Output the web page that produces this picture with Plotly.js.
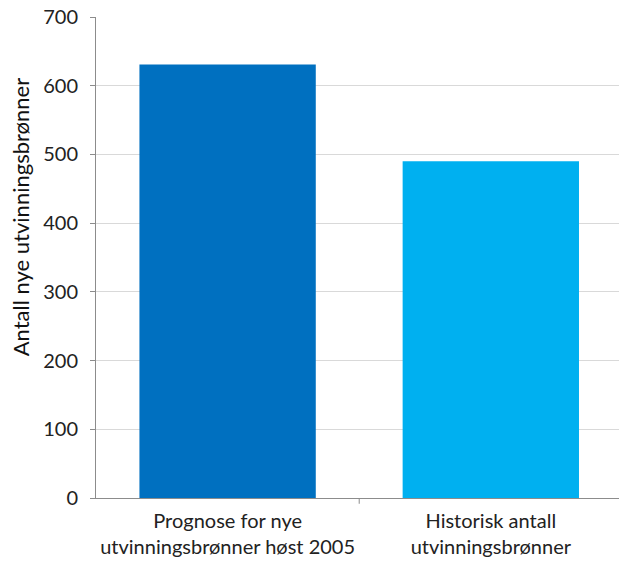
<!DOCTYPE html>
<html>
<head>
<meta charset="utf-8">
<script src="https://cdn.plot.ly/plotly-3.0.1.min.js"></script>
<style>html,body{margin:0;padding:0;background:#fff;}#chart{width:619px;height:563px;}</style>
</head>
<body>
<div id="chart"></div>
<script>
const categories = ["Prognose for nye<br>utvinningsbrønner høst 2005", "Historisk antall<br>utvinningsbrønner"];
const values = [631, 490];
const barColors = ["#0070C0", "#00B0F0"];
const yTitle = "Antall nye utvinningsbrønner";

const data = [{
  type: "bar",
  x: [0, 1],
  y: values,
  marker: {color: barColors},
  width: 0.67,
  hoverinfo: "y"
}];

const layout = {
  width: 619, height: 563,
  margin: {l: 96, r: 0, t: 17, b: 65},
  paper_bgcolor: "#fff", plot_bgcolor: "#fff",
  font: {family: "Lato, 'Open Sans', sans-serif", size: 18, color: "#222"},
  showlegend: false,
  xaxis: {
    range: [-0.5, 1.487],
    tickmode: "array", tickvals: [0, 1], ticktext: categories,
    showline: true, linecolor: "#8c8c8c", linewidth: 1,
    ticks: "", showgrid: false, zeroline: false,
    ticklabelstandoff: 5,
    tickfont: {size: 20, color: "#222"}
  },
  yaxis: {
    range: [0, 700], dtick: 100,
    showgrid: true, gridcolor: "#d9d9d9", gridwidth: 1,
    showline: true, linecolor: "#8c8c8c", linewidth: 1,
    ticks: "outside", ticklen: 5, tickcolor: "#8c8c8c",
    zeroline: false,
    ticklabelstandoff: 8,
    tickfont: {size: 20, color: "#222"}
  },
  annotations: [{
    text: yTitle, textangle: -90,
    xref: "paper", yref: "paper",
    x: -0.145, y: 0.584, xanchor: "center", yanchor: "middle",
    showarrow: false,
    font: {size: 22, color: "#111"}
  }],
  shapes: [{
    type: "line", xref: "x", yref: "paper",
    x0: 0.5, x1: 0.5, y0: 0, y1: -0.012,
    line: {color: "#8c8c8c", width: 1}
  }]
};

Plotly.newPlot("chart", data, layout, {displayModeBar: false, staticPlot: true});
</script>
</body>
</html>
